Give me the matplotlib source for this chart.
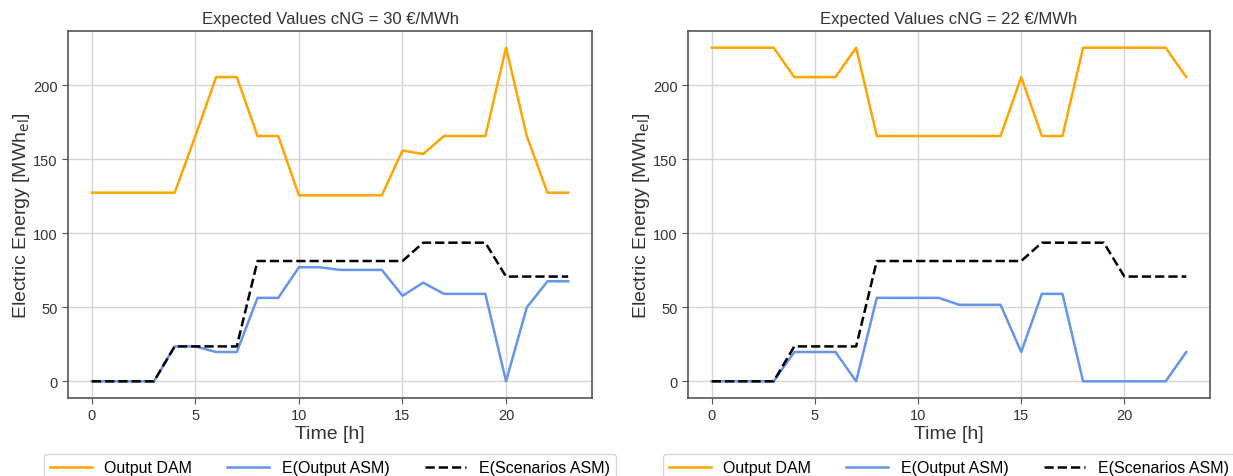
import matplotlib
matplotlib.use("Agg")
import matplotlib.pyplot as plt

plt.rcParams['font.family'] = ['Liberation Sans', 'DejaVu Sans']

hours = list(range(24))

# cNG = 30 €/MWh
dam_30 = [127.5, 127.5, 127.5, 127.5, 127.5, 165.8, 205.6, 205.6, 165.8, 165.8,
          125.7, 125.7, 125.7, 125.7, 125.7, 156.0, 153.6, 165.8, 165.8, 165.8,
          225.5, 165.8, 127.5, 127.5]
asm_30 = [0, 0, 0, 0, 23.6, 23.6, 19.8, 19.8, 56.4, 56.4,
          77.1, 77.1, 75.3, 75.3, 75.3, 57.8, 66.7, 59.1, 59.1, 59.1,
          0, 49.9, 67.6, 67.6]
scen_30 = [0, 0, 0, 0, 23.6, 23.6, 23.6, 23.6, 81.3, 81.3,
           81.3, 81.3, 81.3, 81.3, 81.3, 81.3, 93.7, 93.7, 93.7, 93.7,
           70.8, 70.8, 70.8, 70.8]

# cNG = 22 €/MWh
dam_22 = [225.5, 225.5, 225.5, 225.5, 205.6, 205.6, 205.6, 225.5, 165.8, 165.8,
          165.8, 165.8, 165.8, 165.8, 165.8, 205.6, 165.8, 165.8, 225.5, 225.5,
          225.5, 225.5, 225.5, 205.6]
asm_22 = [0, 0, 0, 0, 19.8, 19.8, 19.8, 0, 56.4, 56.4,
          56.4, 56.4, 51.7, 51.7, 51.7, 19.8, 59.1, 59.1, 0, 0,
          0, 0, 0, 19.8]
scen_22 = scen_30

titles = ["Expected Values cNG = 30 €/MWh", "Expected Values cNG = 22 €/MWh"]
labels = ["Output DAM", "E(Output ASM)", "E(Scenarios ASM)"]
xticks = [0, 5, 10, 15, 20]

fig = plt.figure(figsize=(12.33, 4.77), dpi=100)
positions = [[68/1233, 78/477, 524/1233, 367/477],
             [688/1233, 78/477, 522/1233, 367/477]]
datasets = [(dam_30, asm_30, scen_30), (dam_22, asm_22, scen_22)]

for pos, (dam, asm, scen), title in zip(positions, datasets, titles):
    ax = fig.add_axes(pos)
    ax.plot(hours, dam, color='#FFA500', lw=1.8, label=labels[0])
    ax.plot(hours, asm, color='#6495ED', lw=1.8, label=labels[1])
    ax.plot(hours, scen, color='black', lw=1.8, ls='--', label=labels[2])
    ax.set_title(title, fontsize=12, color='#333333', pad=6)
    ax.set_xlabel("Time [h]", fontsize=14, color='#333333', labelpad=2)
    ax.set_ylabel(r"Electric Energy [MWh$_{\mathrm{el}}$]", fontsize=14,
                  color='#333333', labelpad=1)
    ax.set_xticks(xticks)
    ax.set_yticks([0, 50, 100, 150, 200])
    ax.set_xlim(-1.15, 24.15)
    ax.grid(True, color='#d5d5d5', lw=1.0)
    ax.set_axisbelow(True)
    for s in ax.spines.values():
        s.set_color('#555555')
        s.set_linewidth(1.2)
    ax.tick_params(labelsize=10.5, colors='#333333', length=4, color='#555555')
    leg = ax.legend(loc='upper center', bbox_to_anchor=(0.5, -0.152), ncol=3,
                    fontsize=11.5, frameon=True, fancybox=True, borderaxespad=0,
                    handlelength=2.6, columnspacing=2.2)
    leg.get_frame().set_edgecolor('#cccccc')

fig.savefig("out.png", dpi=100)
